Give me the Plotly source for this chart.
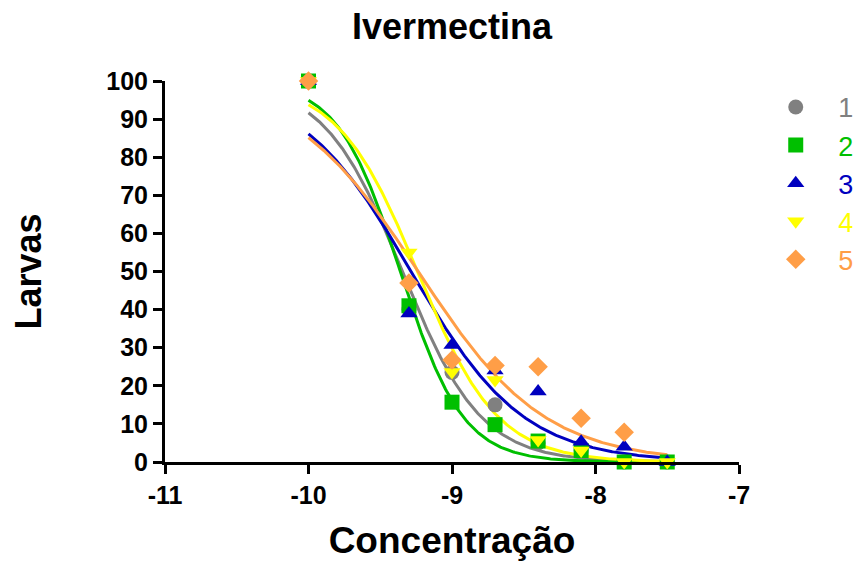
import numpy as np
import plotly.graph_objects as go

# Data
conc = [-10, -9.3, -9, -8.7, -8.4, -8.1, -7.8, -7.5]
serie1 = [100, 40, 23.5, 15, 5, 3, 0, 0]
serie2 = [100, 41, 15.7, 9.8, 5.5, 3, 0, 0]
serie3 = [100, 39, 30.7, 24, 18.5, 5.3, 4, 0]
serie4 = [100, 55, 23.6, 21.5, 5.8, 3, 0, 0]
serie5 = [100, 47, 26.8, 25.3, 25, 11.5, 7.8, None]
names = ["1", "2", "3", "4", "5"]
colors = ["#808080", "#00BF00", "#0000BF", "#FFFF00", "#FF9E47"]
symbols = ["circle", "square", "triangle-up", "triangle-down", "diamond"]
x_ticks = [-11, -10, -9, -8, -7]
y_ticks = [0, 10, 20, 30, 40, 50, 60, 70, 80, 90, 100]

series = [serie1, serie2, serie3, serie4, serie5]


def fit_sigmoid(xs, ys):
    """Least-squares fit of a decreasing dose-response curve (top=100, bottom=0)."""
    pts = [(a, b) for a, b in zip(xs, ys) if b is not None]
    X = np.array([p[0] for p in pts])
    Y = np.array([p[1] for p in pts])
    logec = np.arange(-10.0, -8.0, 0.005)
    hill = np.arange(0.3, 4.0, 0.01)
    L, H = np.meshgrid(logec, hill, indexing="ij")
    pred = 100.0 / (1.0 + 10 ** ((X[None, None, :] - L[..., None]) * H[..., None]))
    sse = ((pred - Y[None, None, :]) ** 2).sum(axis=-1)
    i, j = np.unravel_index(np.argmin(sse), sse.shape)
    return logec[i], hill[j]


xc = np.linspace(min(conc), max(conc), 300)

fig = go.Figure()
for s, c in zip(series, colors):
    l, h = fit_sigmoid(conc, s)
    yc = 100.0 / (1.0 + 10 ** ((xc - l) * h))
    fig.add_trace(go.Scatter(x=xc, y=yc, mode="lines", line=dict(color=c, width=3),
                             showlegend=False, hoverinfo="skip", cliponaxis=False))

for k, (s, c, sym, n) in enumerate(zip(series, colors, symbols, names)):
    fig.add_trace(go.Scatter(
        x=conc, y=s, mode="markers", cliponaxis=False,
        marker=dict(color=c, symbol=sym, size=15, line=dict(width=0)),
        name=f"&nbsp;&nbsp;&nbsp;<span style='color:{c}'>{n}</span>", legendgroup=n))

font_family = "Arial, Liberation Sans, sans-serif"
fig.update_layout(
    width=863, height=565,
    margin=dict(l=157, r=129, t=73, b=111),
    paper_bgcolor="white", plot_bgcolor="white",
    font=dict(family=font_family, color="black"),
    title=dict(text="<b>Ivermectina</b>", xref="paper", x=0.5, xanchor="center",
               yref="container", y=0.99, yanchor="top", pad=dict(t=0, b=0),
               font=dict(size=36, family=font_family, color="black")),
    xaxis=dict(range=[-11, -7], tickvals=x_ticks, ticktext=[f"<b>{v}</b>" for v in x_ticks],
               automargin=False,
               showgrid=False, zeroline=False, showline=True, linecolor="black", linewidth=3,
               ticks="outside", ticklen=9, tickwidth=3, tickcolor="black",
               tickfont=dict(size=25, family=font_family, color="black"),
               title=dict(text="<b>Concentração</b>", font=dict(size=37, family=font_family, color="black"),
                          standoff=20)),
    yaxis=dict(range=[0, 100], tickvals=y_ticks, ticktext=[f"<b>{v}</b>" for v in y_ticks],
               automargin=False,
               showgrid=False, zeroline=False, showline=True, linecolor="black", linewidth=3,
               ticks="outside", ticklen=9, tickwidth=3, tickcolor="black",
               tickfont=dict(size=25, family=font_family, color="black"),
               title=dict(text="<b>Larvas</b>", font=dict(size=36, family=font_family, color="black"),
                          standoff=75)),
    legend=dict(x=1.064, xanchor="left", y=0.995, yanchor="top", font=dict(size=27, family=font_family),
                tracegroupgap=0, bgcolor="rgba(0,0,0,0)", traceorder="grouped", itemsizing="trace"),
)

fig.write_html("out.html")
